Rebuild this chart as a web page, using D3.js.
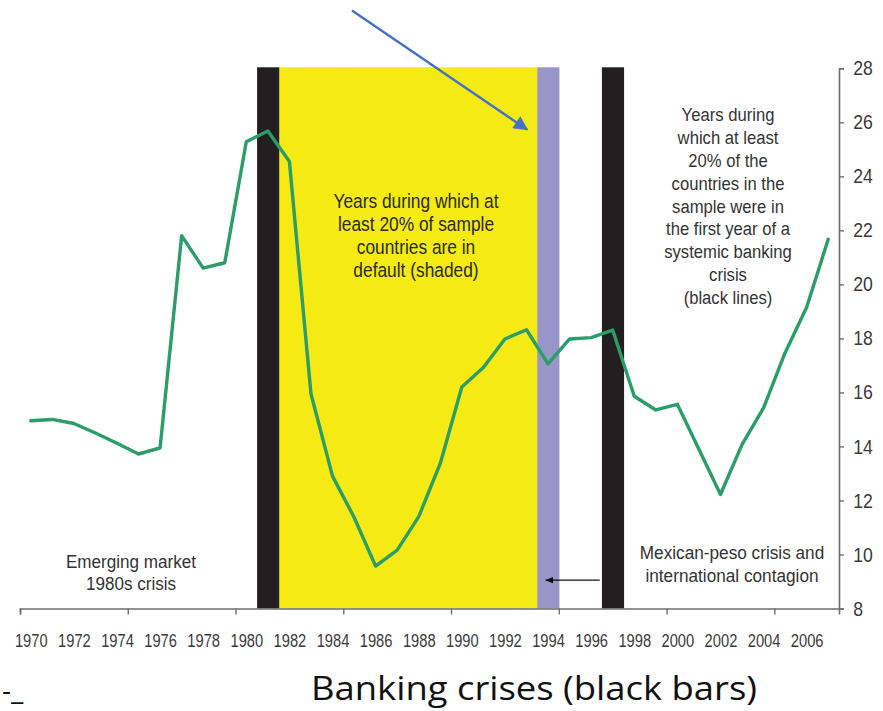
<!DOCTYPE html>
<html>
<head>
<meta charset="utf-8">
<script src="https://cdn.jsdelivr.net/npm/d3@7/dist/d3.min.js"></script>
<style>
  html, body { margin: 0; padding: 0; background: #fff; }
  svg { display: block; }
  .narrow { font-family: "Liberation Sans", Arial, sans-serif; }
</style>
</head>
<body>
<svg id="chart" width="883" height="711"></svg>
<script>
// ---- Data ----
const years = [1970,1971,1972,1973,1974,1975,1976,1977,1978,1979,1980,1981,1982,1983,1984,1985,1986,1987,1988,1989,
               1990,1991,1992,1993,1994,1995,1996,1997,1998,1999,2000,2001,2002,2003,2004,2005,2006,2007];
const values = [14.95,15.0,14.85,14.5,14.12,13.72,13.95,21.8,20.6,20.8,25.28,25.68,24.55,15.95,12.9,11.38,9.57,10.16,11.4,13.37,
                16.2,16.92,17.98,18.32,17.06,17.98,18.03,18.31,15.86,15.35,15.56,13.9,12.22,14.07,15.43,17.47,19.15,21.67];
const bankingCrisisYears = [1981, 1997];          // black bars
const defaultYears = [1982,1983,1984,1985,1986,1987,1988,1989,1990,1991,1992,1993]; // yellow shading
const highlightYears = [1994];                   // purple bar
const xLabelYears = [1970,1972,1974,1976,1978,1980,1982,1984,1986,1988,1990,1992,1994,1996,1998,2000,2002,2004,2006];
const xTickYears = [1969.5,1974.5,1979.5,1984.5,1989.5,1994.5,1999.5,2004.5];
const yTicks = [8,10,12,14,16,18,20,22,24,26,28];
const defaultNote = ["Years during which at","least 20% of sample","countries are in","default (shaded)"];
const bankingNote = ["Years during","which at least","20% of the","countries in the","sample were in","the first year of a","systemic banking","crisis","(black lines)"];
const emergingNote = ["Emerging market","1980s crisis"];
const mexicoNote = ["Mexican-peso crisis and","international contagion"];
const bottomTitle = "Banking crises (black bars)";

// ---- Scales ----
const svg = d3.select("#chart");
const x = d3.scaleLinear().domain([1969.5, 2007.5]).range([20, 839]);
const y = d3.scaleLinear().domain([8, 28]).range([608.5, 68.3]);

// ---- Shaded bands ----
function band(yrs, color) {
  svg.append("g").selectAll("rect").data(yrs).join("rect")
    .attr("x", d => x(d - 0.5))
    .attr("width", d => x(d + 0.5) - x(d - 0.5) + 0.6)
    .attr("y", y(28) - 1)
    .attr("height", y(8) - y(28) + 1)
    .attr("fill", color);
}
band(defaultYears, "#f5ea14");
band(highlightYears, "#9896c9");
band(bankingCrisisYears, "#231f20");

// ---- Axes ----
const axisColor = "#6d6e71";
const gx = svg.append("g").attr("transform", `translate(0,${y(8)})`)
  .call(d3.axisBottom(x).tickValues(xTickYears).tickSize(6).tickFormat(""));
gx.select(".domain").attr("stroke", axisColor).attr("stroke-width", 1.6);
gx.selectAll(".tick line").attr("stroke", axisColor).attr("stroke-width", 1.4);

const gxl = svg.append("g").attr("transform", `translate(0,${y(8)})`)
  .call(d3.axisBottom(x).tickValues(xLabelYears).tickSize(0).tickFormat(d3.format("d")).tickPadding(26));
gxl.select(".domain").remove();
gxl.selectAll("text").attr("class", "narrow").attr("font-size", 17.5).attr("fill", "#3a3a3a")
  .attr("transform", "scale(0.84,1)");

const gy = svg.append("g").attr("transform", `translate(${x(2007.5)},0)`)
  .call(d3.axisRight(y).tickValues(yTicks).tickSize(5).tickPadding(9));
gy.select(".domain").attr("stroke", axisColor).attr("stroke-width", 1.6);
gy.selectAll(".tick line").attr("stroke", axisColor).attr("stroke-width", 1.4);
gy.selectAll("text").attr("class", "narrow").attr("font-size", 20.5).attr("fill", "#3a3a3a")
  .attr("transform", "scale(0.86,1)").attr("x", 16.5);

// ---- Line ----
const pts = years.map((yr, i) => [yr, values[i]]);
svg.append("path").datum(pts)
  .attr("fill", "none").attr("stroke", "#2a9d68").attr("stroke-width", 3.4)
  .attr("stroke-linejoin", "round").attr("stroke-linecap", "round")
  .attr("d", d3.line().x(d => x(d[0])).y(d => y(d[1])));

// ---- Annotations ----
function note(lines, cx, y0, dy, size, sx, color) {
  svg.append("g").attr("transform", `translate(${cx},0) scale(${sx},1)`)
    .selectAll("text").data(lines).join("text")
    .attr("class", "narrow")
    .attr("x", 0).attr("y", (d, i) => y0 + i * dy)
    .attr("text-anchor", "middle").attr("dominant-baseline", "middle")
    .attr("font-size", size).attr("fill", color)
    .text(d => d);
}
note(defaultNote, 416, 203, 23, 19.5, 0.89, "#2b2a1a");
note(bankingNote, 728, 116.5, 22.8, 18.5, 0.9, "#333");
note(emergingNote, 131, 563, 22.5, 18.5, 0.925, "#333");
note(mexicoNote, 732, 554, 23.5, 18.5, 0.93, "#333");

// black arrow (Mexican crisis → purple bar)
const defs = svg.append("defs");
defs.append("marker").attr("id", "ah").attr("viewBox", "0 0 10 10").attr("refX", 9).attr("refY", 5)
  .attr("markerWidth", 6).attr("markerHeight", 6).attr("orient", "auto")
  .append("path").attr("d", "M0,1 L10,5 L0,9 Z").attr("fill", "#111");
svg.append("line")
  .attr("x1", x(1996.4)).attr("y1", y(9.05)).attr("x2", x(1993.9)).attr("y2", y(9.05))
  .attr("stroke", "#111").attr("stroke-width", 1.4).attr("marker-end", "url(#ah)");

// blue arrow
defs.append("marker").attr("id", "bh").attr("viewBox", "0 0 10 10").attr("refX", 9).attr("refY", 5)
  .attr("markerWidth", 7).attr("markerHeight", 6).attr("markerUnits", "strokeWidth").attr("orient", "auto")
  .append("path").attr("d", "M0,0 L10,5 L0,10 Z").attr("fill", "#4472c4");
svg.append("line")
  .attr("x1", 352).attr("y1", 10.5).attr("x2", 527).attr("y2", 129.5)
  .attr("stroke", "#4472c4").attr("stroke-width", 2.4).attr("marker-end", "url(#bh)");

// bottom labels
svg.append("text").attr("x", 311).attr("y", 700)
  .attr("font-family", "'Open Sans', Lato, sans-serif").attr("font-size", 33).attr("fill", "#111")
  .attr("textLength", 446).attr("lengthAdjust", "spacingAndGlyphs")
  .text(bottomTitle);
svg.append("text").attr("x", 2).attr("y", 700)
  .attr("font-family", "'Open Sans', Lato, sans-serif").attr("font-size", 28).attr("fill", "#111")
  .text("-_");
</script>
</body>
</html>
